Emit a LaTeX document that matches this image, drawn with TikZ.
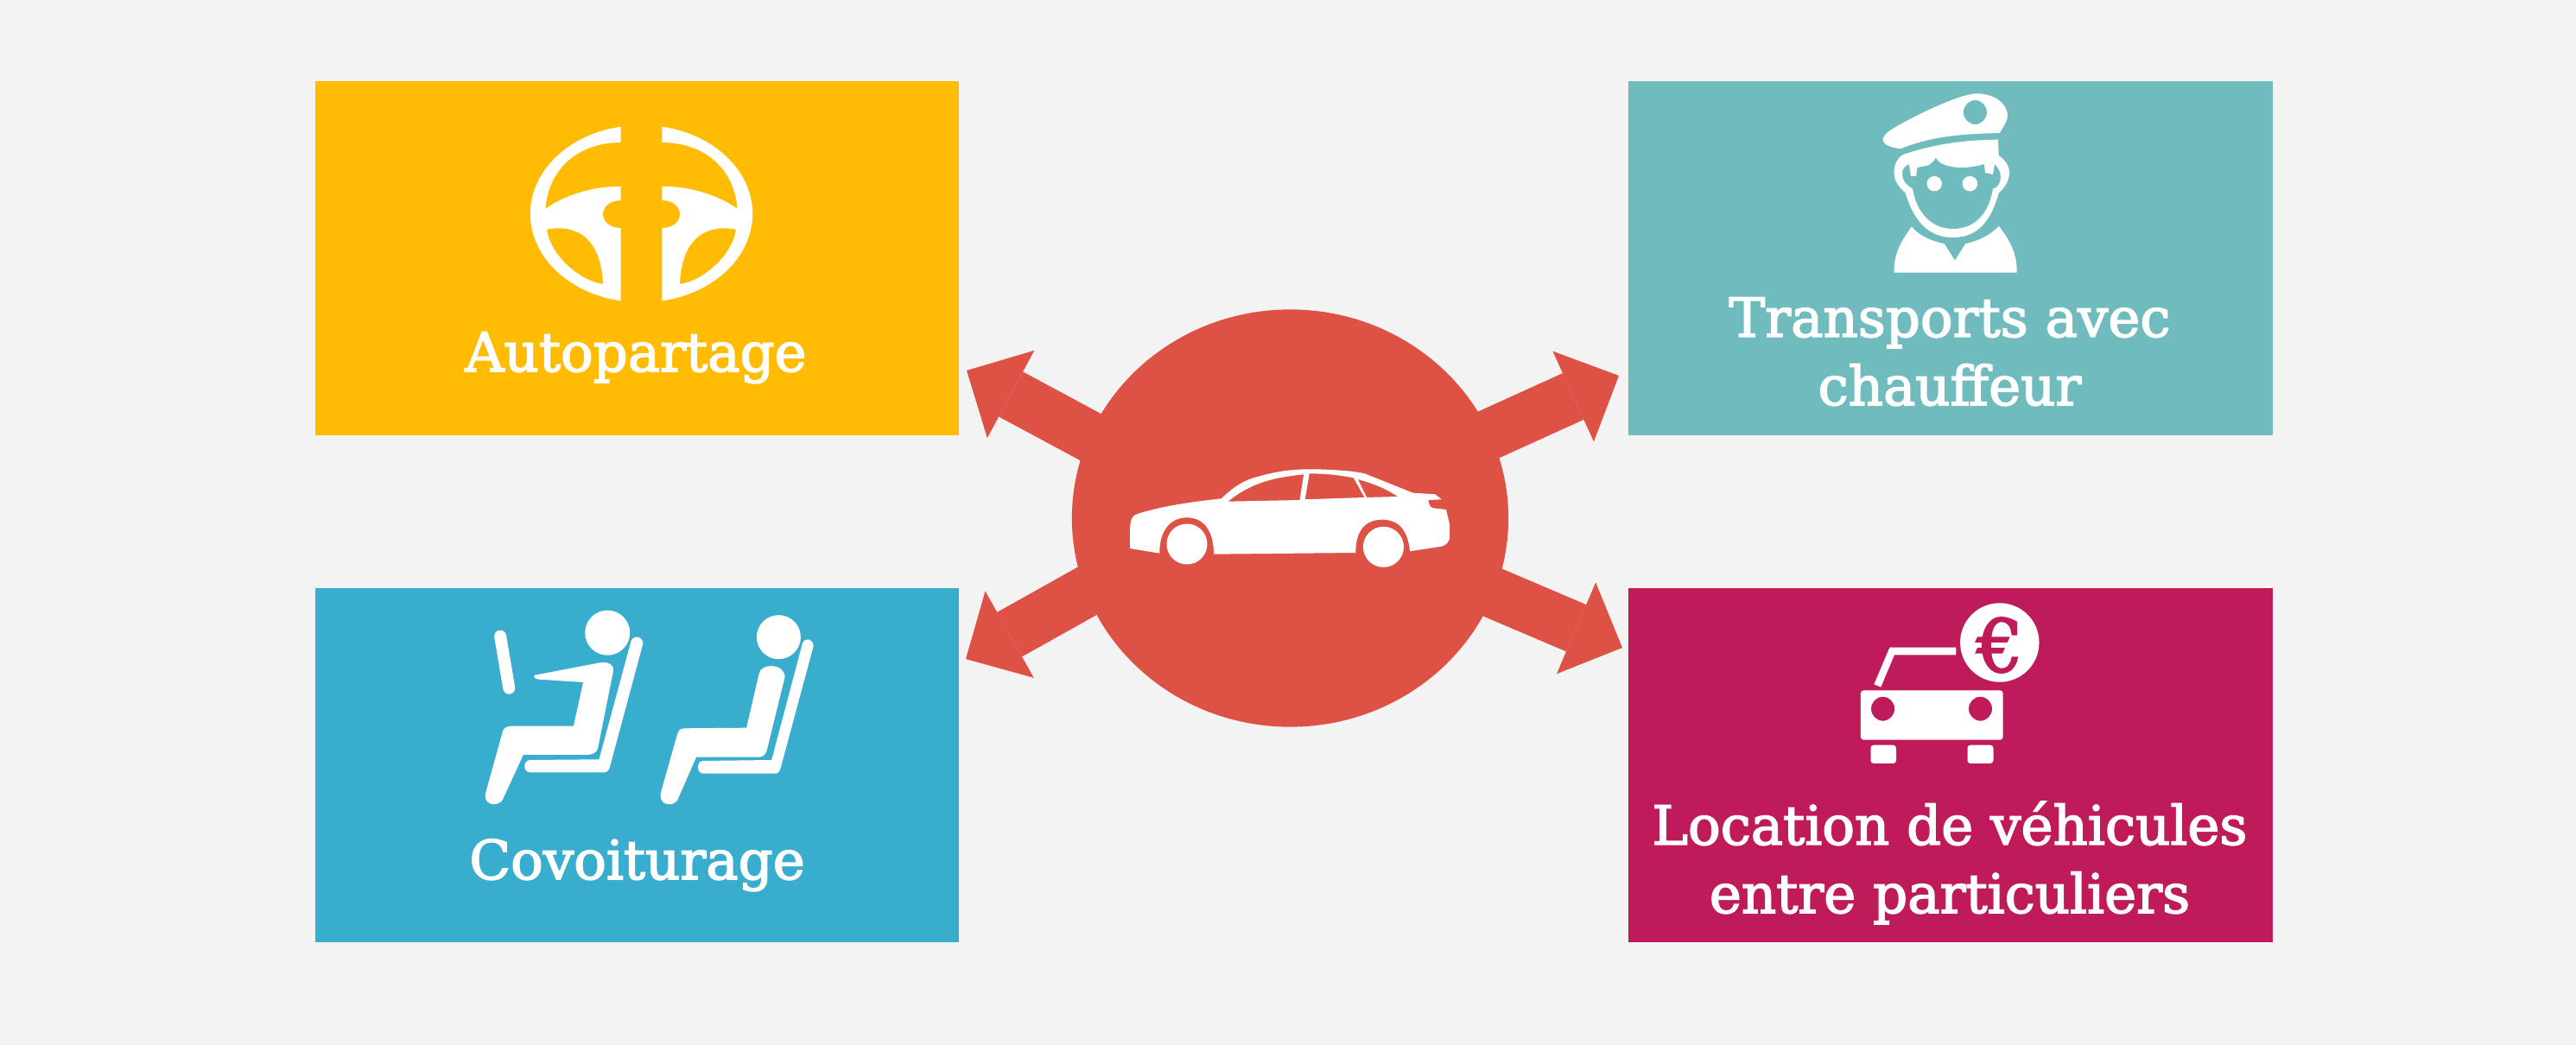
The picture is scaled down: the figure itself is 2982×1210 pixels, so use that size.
\documentclass[tikz,border=0pt]{standalone}
\usepackage{fontspec}
\setmainfont{DejaVu Serif}[FakeBold=2.5]
\usetikzlibrary{calc,positioning,shapes.geometric,arrows.meta}
\definecolor{pagebg}{HTML}{F3F3F3}
\definecolor{sunny}{HTML}{FFBC03}
\definecolor{lagoon}{HTML}{6FBBBD}
\definecolor{azure}{HTML}{39ADCE}
\definecolor{berry}{HTML}{BF1A5A}
\definecolor{coral}{HTML}{DE5246}
\tikzset{
    panel/.style={rectangle, minimum width=7.45cm, minimum height=4.10cm, inner sep=0pt},
    caption/.style={text=white, align=center, anchor=base, inner sep=0pt,
        font=\fontsize{17.8}{22.48}\selectfont},
    fatarrow/.style={coral, line width=0.59cm,
        -{Triangle[length=0.58cm,width=1.15cm,line width=0pt]}},
    glyph/.style={fill=white, even odd rule, draw=none}
}
% one half of the steering wheel, the other one is mirrored
\newcommand{\halfwheel}{
    \fill[glyph] (718.7,146.7) arc[start angle=259.7, end angle=100.3, x radius=127.7, y radius=102.5]
        -- (718.7,264) .. controls (705,264) and (698,256) .. (698,248)
        .. controls (698,240) and (705,232) .. (718.7,232) -- (718.7,216)
        .. controls (690,215) and (655,225) .. (631.5,241.7)
        .. controls (634,200) and (665,165) .. (718.7,165) -- cycle
        (633,265.7) .. controls (668,259) and (696,276) .. (698,329)
        .. controls (670,325) and (637,295) .. (633,265.7) -- cycle;
}
\begin{document}
\begin{tikzpicture}[x=0.01cm,y=-0.01cm]
        \fill[pagebg] (0,0) rectangle (2982,1210);
        \useasboundingbox (0,0) rectangle (2982,1210);

        \node[panel, fill=sunny] (autopartage) at (737.5,299) {};
        \node[panel, fill=lagoon] (transports) at (2258,299) {};
        \node[panel, fill=azure] (covoiturage) at (737.5,886) {};
        \node[panel, fill=berry] (location) at (2258,886) {};

        \node[caption] (autoText) at (736,430) {Autopartage};
        \node[caption] (covoitText) at (737.5,1018) {Covoiturage};
        \node[caption] (transportText) at (2257,469) {Transports avec\\chauffeur};
        \node[caption] (locationText) at (2257,1057) {Location de véhicules\\entre particuliers};

        \node[ellipse, fill=coral, minimum width=5.05cm, minimum height=4.83cm, inner sep=0pt] (hub) at (1493.5,600) {};
        \coordinate (startA) at (1493,630);
        \coordinate (startB) at (1493,608);
        \coordinate (startC) at (1493,553);
        \coordinate (startD) at (1493,586);
        \coordinate (tipA) at (1119,429);
        \coordinate (tipB) at (1874,435);
        \coordinate (tipC) at (1118,763);
        \coordinate (tipD) at (1878,750);
        \draw[fatarrow] (startA) -- (tipA);
        \draw[fatarrow] (startB) -- (tipB);
        \draw[fatarrow] (startC) -- (tipC);
        \draw[fatarrow] (startD) -- (tipD);

        % car in the hub
        \fill[glyph] (1308.2,635) -- (1308.2,610) .. controls (1309,600) and (1311,597) .. (1316.8,595)
            .. controls (1345,586) and (1380,581) .. (1413.8,577.3) .. controls (1430,562) and (1442,555) .. (1457.1,551.7)
            .. controls (1480,545) and (1500,543) .. (1523.5,543.3) .. controls (1545,544) and (1565,545) .. (1579.6,548.3)
            -- (1635.7,570.7) -- (1661.2,572.3) -- (1668.9,578.3) -- (1653.6,579)
            .. controls (1654,584) and (1655,587) .. (1658.7,588.3) -- (1674,590) -- (1678,606.7) -- (1678,623.3)
            .. controls (1677,628) and (1674,631) .. (1668.9,632.7) -- (1632.1,638.3)
            .. controls (1630,615) and (1620,601.7) .. (1600,601.7) .. controls (1580,601.7) and (1569,615) .. (1569.4,640)
            -- (1405.1,641.7) .. controls (1405,615) and (1394,599.3) .. (1374,599.3)
            .. controls (1354,599.3) and (1342,615) .. (1342.3,640.7) -- cycle
            (1421.4,580.7) -- (1504.6,579) -- (1509.2,549.3) .. controls (1475,553) and (1450,558) .. (1421.4,580.7) -- cycle
            (1510.7,578.3) -- (1579.6,576) -- (1566.8,553.3) .. controls (1550,550) and (1535,548.5) .. (1515.8,548.3) -- cycle
            (1582.1,576) -- (1617.9,575) .. controls (1605,566) and (1590,560) .. (1571.9,555) -- cycle;
        \node[circle, fill=white, minimum size=0.47cm, inner sep=0pt] (frontWheel) at (1374,630) {};
        \node[circle, fill=white, minimum size=0.47cm, inner sep=0pt] (rearWheel) at (1601.5,633.3) {};

        % steering wheel
        \halfwheel
        \begin{scope}[shift={(1485,0)},xscale=-1]
            \halfwheel
        \end{scope}

        % driver
        \fill[glyph] (2179.6,161.7) .. controls (2180,168) and (2190,171) .. (2200,172.3)
            .. controls (2235,158) and (2270,155) .. (2314.8,154) .. controls (2320,145) and (2324,140) .. (2324,133.3)
            .. controls (2323,118) and (2306,108) .. (2287,108.3) .. controls (2265,110) and (2215,135) .. (2195,146.7)
            .. controls (2186,152) and (2180,156) .. (2179.6,161.7) -- cycle
            (2300,130) arc[start angle=0, end angle=360, x radius=13.6, y radius=14];
        \fill[glyph] (2202.3,179.3) .. controls (2235,168) and (2270,162) .. (2312.9,161.7) -- (2313.8,180)
            .. controls (2322,186) and (2326,192) .. (2326,200) .. controls (2326,210) and (2320,218) .. (2313.8,223.3)
            .. controls (2305,255) and (2290,275) .. (2260.5,275) .. controls (2232,275) and (2215,255) .. (2205.7,223.3)
            .. controls (2198,216) and (2192.6,210) .. (2192.6,200) .. controls (2192.6,190) and (2196,184) .. (2202.3,179.3) -- cycle
            (2210,190) -- (2212,204) -- (2218,204) -- (2219.5,194) -- (2232,191.5) .. controls (2236,189) and (2239,186) .. (2241,182.5)
            .. controls (2245,190) and (2255,194) .. (2272.6,194) .. controls (2280,194) and (2290,192) .. (2297,190)
            -- (2298,200) -- (2307,202) -- (2309,190) .. controls (2314,195) and (2316,200) .. (2316,205)
            .. controls (2316,212) and (2312,218) .. (2307,218.3) .. controls (2303,245) and (2288,265) .. (2260.5,265)
            .. controls (2235,265) and (2218,245) .. (2214,218.3) .. controls (2207,215) and (2202,210) .. (2202,200)
            .. controls (2202,196) and (2205,192) .. (2210,190) -- cycle;
        \node[circle, fill=white, minimum size=0.175cm, inner sep=0pt] (eyeLeft) at (2239.2,212.7) {};
        \node[circle, fill=white, minimum size=0.175cm, inner sep=0pt] (eyeRight) at (2280.4,212.7) {};
        \fill[glyph] (2213,262.3) .. controls (2220,272) and (2235,279) .. (2250.8,282.3) -- (2263,301.7) -- (2275,282.3)
            .. controls (2290,279) and (2305,272) .. (2313.8,261.7) .. controls (2328,280) and (2335,295) .. (2334.7,315.7)
            -- (2192.6,315.7) .. controls (2192,295) and (2200,280) .. (2213,262.3) -- cycle;

        % two seats
        \node[circle, fill=white, minimum size=0.52cm, inner sep=0pt] (headLeft) at (703.2,732.7) {};
        \node[circle, fill=white, minimum size=0.51cm, inner sep=0pt] (headRight) at (901.4,737.7) {};
        \draw[white, line width=0.14cm, line cap=round] (579.1,736.7) -- (589.3,796.7);
        \fill[white] (729.8,745) .. controls (731,735) and (743.5,735) .. (744.4,745) -- (706.5,886)
            .. controls (705.5,891) and (703.5,894.3) .. (699.3,894.3) -- (614,894.3)
            .. controls (605,894.3) and (605,880) .. (614,880) -- (693.5,879.3) -- cycle;
        \fill[white] (928.1,748) .. controls (929,738) and (941,738) .. (941.7,748) -- (904,888)
            .. controls (903,892) and (901,895.7) .. (898,895.7) -- (814,895.7)
            .. controls (806,895.7) and (806,881) .. (814,881) -- (893.2,880) -- cycle;
        \fill[white] (619.3,781.7) -- (694.5,767.3) .. controls (705,766) and (711,770) .. (710,776.7)
            -- (692,866.7) .. controls (691,871) and (686,874) .. (680,874) -- (605.8,874) -- (581.5,926.7)
            .. controls (575,935) and (559,932) .. (562.1,918.3) -- (582,846.7)
            .. controls (583,843) and (587,840.7) .. (591.7,840.7) -- (663.9,840.7) -- (675.1,790) -- (624.2,786.7)
            .. controls (618,786) and (617,783) .. (619.3,781.7) -- cycle;
        \fill[white] (878.7,780) .. controls (880,769) and (906,766) .. (908.7,783.3) -- (888.4,866)
            .. controls (887,873) and (884,876.7) .. (878.7,876.7) -- (806,876.7) -- (784.1,926.7)
            .. controls (778,935) and (762,932) .. (764.8,918.3) -- (784.1,850)
            .. controls (785,846) and (788,843.3) .. (792.4,843.3) -- (864.1,842.7) -- cycle;

        % rental car and coin
        \fill[glyph, rounded corners=1pt] (2153.9,799.3) rectangle (2318.7,856.7)
            (2193.2,820.7) arc[start angle=0, end angle=360, x radius=13.6, y radius=14]
            (2306.1,820.7) arc[start angle=0, end angle=360, x radius=13.6, y radius=14];
        \fill[white, rounded corners=1pt] (2165.5,862.7) rectangle (2195,884);
        \fill[white, rounded corners=1pt] (2277.5,862.7) rectangle (2307.5,884);
        \draw[white, line width=0.085cm] (2173.3,794) -- (2190.2,754) -- (2264.4,754);
        \node[circle, fill=white, minimum size=0.914cm, inner sep=0pt] (coin) at (2314.8,744) {};
        \node[text=berry, inner sep=0pt, font=\fontsize{24}{24}\selectfont] (euro) at (2315,747) {€};
\end{tikzpicture}
\end{document}
